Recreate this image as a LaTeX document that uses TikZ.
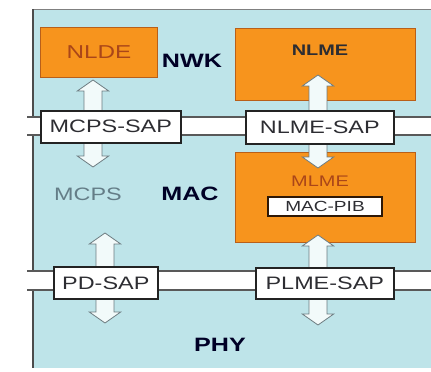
\documentclass[tikz,border=0pt]{standalone}
\usepackage{fontspec}
\setmainfont{Liberation Sans}[FakeStretch=1.3]
\usetikzlibrary{shapes.arrows}
\definecolor{zigorange}{RGB}{247, 148, 29}
\definecolor{orangeedge}{RGB}{185, 95, 25}
\definecolor{layerblue}{RGB}{190, 228, 233}
\definecolor{sapline}{RGB}{35, 35, 35}
\definecolor{textdark}{RGB}{45, 45, 50}
\definecolor{entitytext}{RGB}{170, 70, 25}
\definecolor{mcpsgray}{RGB}{100, 125, 135}
\definecolor{arrowfill}{RGB}{242, 250, 250}
\definecolor{arrowline}{RGB}{110, 125, 130}

\begin{document}
\begin{tikzpicture}[x=0.75pt, y=-0.75pt,
    every node/.style={font=\fontsize{13.5}{14}\selectfont, text=textdark},
    layerbox/.style={draw=orangeedge, fill=zigorange, line width=0.8pt,
        anchor=north west, inner sep=0pt},
    sapbox/.style={draw=sapline, fill=white, line width=1.2pt,
        anchor=north west, inner sep=0pt},
    biarrow/.style={double arrow, rotate=90, draw=arrowline, fill=arrowfill,
        line width=0.6pt, inner xsep=0pt, inner ysep=6.4pt, minimum width=0pt,
        double arrow head extend=5pt, double arrow tip angle=110},
    layername/.style={font=\bfseries\fontsize{14.5}{15}\selectfont, text=black!85!blue}]
    \useasboundingbox (0,0) rectangle (431,371);

    % ── Layer background ─────────────────────────────────────────────
    \fill[layerblue] (33,9) rectangle (431,368);
    \draw[gray, thin] (431,9) -- (33,9);
    \draw[black!70, line width=0.8pt] (33,9) -- (33,368);

    % SAP bands
    \foreach \ya/\yb in {117/135, 271/290}{
        \fill[white] (27,\ya) rectangle (431,\yb);
        \draw[black!65, line width=0.8pt] (27,\ya) -- (431,\ya) (27,\yb) -- (431,\yb);
    }

    % ── Management / data entities ───────────────────────────────────
    \node[layerbox, minimum width=87.75pt, minimum height=37.5pt,
        text=entitytext, font=\fontsize{14}{15}\selectfont] (nlde) at (40,27) {NLDE};
    \node[layerbox, minimum width=135pt, minimum height=54pt] (nlme) at (235,28) {};
    \node[layerbox, minimum width=135pt, minimum height=67.5pt] (mlme) at (235,152) {};
    \node[font=\bfseries\fontsize{11.5}{12}\selectfont] (nlmeTitle) at (320,50) {NLME};
    \node[text=entitytext, font=\fontsize{11.5}{12}\selectfont] (mlmeTitle) at (320,181) {MLME};
    \node[draw=black!75!orangeedge, fill=white, line width=1.5pt, inner sep=0pt,
        minimum width=85.5pt, minimum height=14.25pt,
        font=\fontsize{11}{12}\selectfont] (macpib) at (325,206) {MAC-PIB};

    % ── Arrows through the SAPs ──────────────────────────────────────
    \node[biarrow, minimum height=65.25pt] (arrMcps) at (93,123.5) {};
    \node[biarrow, minimum height=69.75pt] (arrNlme) at (318,121.5) {};
    \node[biarrow, minimum height=67.5pt] (arrPd) at (105,278) {};
    \node[biarrow, minimum height=67.5pt] (arrPlme) at (318,280) {};

    % ── Service access points ────────────────────────────────────────
    \node[sapbox, minimum width=105pt, minimum height=24pt] (mcpssap) at (40,110) {MCPS-SAP};
    \node[sapbox, minimum width=111pt, minimum height=24.75pt] (nlmesap) at (245,110) {NLME-SAP};
    \node[sapbox, minimum width=78pt, minimum height=24pt] (pdsap) at (53,266) {PD-SAP};
    \node[sapbox, minimum width=103.5pt, minimum height=23.25pt] (plmesap) at (255,267) {PLME-SAP};

    % ── Layer names ──────────────────────────────────────────────────
    \node[layername] (nwk) at (192,61) {NWK};
    \node[layername] (mac) at (190,194) {MAC};
    \node[layername] (phy) at (220,345) {PHY};
    \node[text=mcpsgray] (mcps) at (88,194) {MCPS};
\end{tikzpicture}
\end{document}
